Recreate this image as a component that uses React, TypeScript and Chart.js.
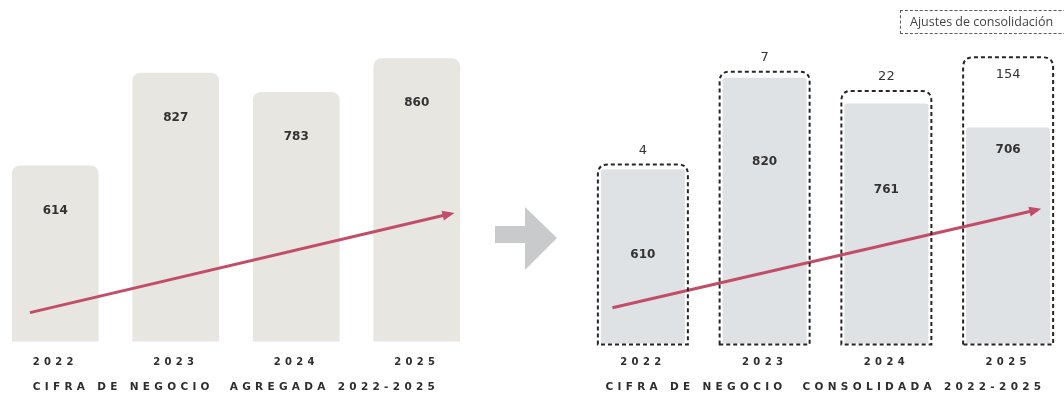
import React, { useEffect, useRef } from 'react';
import { Chart, registerables } from 'chart.js';
Chart.register(...registerables);

// ---- data ----
const years = ['2022', '2023', '2024', '2025'];
const aggregate = [614, 827, 783, 860];
const consolidated = [610, 820, 761, 706];
const adjustments = [4, 7, 22, 154];
// decorative trend arrows (x in category units, y in value units)
const trendAggX = [-0.21, 3.28];
const trendAggY = [276, 503];
const trendConsX = [-0.25, 3.24];
const trendConsY = [292, 517];
const titleAgg = 'CIFRA DE NEGOCIO  AGREGADA 2022-2025';
const titleCons = 'CIFRA DE NEGOCIO  CONSOLIDADA 2022-2025';
const legendLabel = 'Ajustes de consolidación';

const Y_MIN = 210;
const Y_MAX = 870;
const RED = '#c24d69';
const TXT = '#2e2e2e';
const FONT = 'DejaVu Sans';

const spacingPlugin = {
  id: 'spacing',
  beforeDraw(chart: any) {
    chart.ctx.letterSpacing = '4.3px';
  },
  afterDraw(chart: any) {
    chart.ctx.letterSpacing = '0px';
  },
};

const arrowHeadPlugin = {
  id: 'arrowHead',
  afterDatasetsDraw(chart: any) {
    chart.data.datasets.forEach((ds: any, i: number) => {
      if (ds.type !== 'line') return;
      const pts = chart.getDatasetMeta(i).data;
      if (pts.length < 2) return;
      const a = pts[pts.length - 2];
      const b = pts[pts.length - 1];
      const ang = Math.atan2(b.y - a.y, b.x - a.x);
      const ctx = chart.ctx;
      ctx.save();
      ctx.fillStyle = ds.borderColor;
      ctx.translate(b.x, b.y);
      ctx.rotate(ang);
      ctx.beginPath();
      ctx.moveTo(4, 0);
      ctx.lineTo(-8, -5);
      ctx.lineTo(-8, 5);
      ctx.closePath();
      ctx.fill();
      ctx.restore();
    });
  },
};

function trendDataset(xs: number[], ys: number[]) {
  return {
    type: 'line',
    data: xs.map((x, i) => ({ x, y: ys[i] })),
    xAxisID: 'xt',
    yAxisID: 'y',
    borderColor: RED,
    borderWidth: 3,
    pointRadius: 0,
    order: 0,
    stack: 'trend',
  };
}

function xScales(title: string, pad: number, titlePad: any) {
  return {
    x: {
      stacked: true,
      grid: { display: false, drawTicks: false },
      border: { display: false },
      ticks: {
        color: TXT,
        font: { family: FONT, size: 10, weight: 'bold' },
        padding: pad,
        maxRotation: 0,
        autoSkip: false,
      },
      title: {
        display: true,
        text: title,
        color: TXT,
        font: { family: FONT, size: 10.5, weight: 'bold' },
        padding: titlePad,
      },
    },
    xt: { type: 'linear', display: false, offset: false, min: -0.5, max: 3.5 },
    y: { display: false, min: Y_MIN, max: Y_MAX, stacked: true },
  };
}

function AggChart() {
  const ref = useRef<HTMLCanvasElement>(null);
  useEffect(() => {
    const labelPlugin = {
      id: 'aggLabels',
      afterDatasetsDraw(chart: any) {
        const ctx = chart.ctx;
        const meta = chart.getDatasetMeta(0);
        ctx.save();
        ctx.letterSpacing = '0px';
        ctx.font = `bold 12px "${FONT}"`;
        ctx.fillStyle = '#333';
        ctx.textAlign = 'center';
        ctx.textBaseline = 'middle';
        meta.data.forEach((el: any, i: number) => {
          const p = el.getProps(['x', 'y'], true);
          ctx.fillText(String(aggregate[i]), p.x, p.y + 45);
        });
        ctx.restore();
      },
    };
    const chart = new Chart(ref.current!, {
      type: 'bar',
      data: {
        labels: years,
        datasets: [
          {
            type: 'bar',
            data: aggregate,
            backgroundColor: '#e7e6e0',
            borderRadius: { topLeft: 8, topRight: 8, bottomLeft: 0, bottomRight: 0 },
            borderSkipped: false,
            grouped: false,
            categoryPercentage: 1,
            barPercentage: 0.72,
            order: 1,
          } as any,
          trendDataset(trendAggX, trendAggY) as any,
        ],
      },
      options: {
        responsive: false,
        animation: false,
        layout: { padding: { top: 54, bottom: 0, left: 0, right: 0 } },
        plugins: { legend: { display: false }, tooltip: { enabled: false } },
        scales: xScales(titleAgg, 15, { top: -2, bottom: 4 }) as any,
      },
      plugins: [spacingPlugin, labelPlugin, arrowHeadPlugin],
    });
    return () => chart.destroy();
  }, []);
  return (
    <canvas
      ref={ref}
      width={482}
      height={398}
      style={{ position: 'absolute', left: -5, top: 0 }}
    />
  );
}

function ConsChart() {
  const ref = useRef<HTMLCanvasElement>(null);
  useEffect(() => {
    const roundTopRect = (ctx: any, x0: number, y0: number, x1: number, y1: number, r: number) => {
      ctx.beginPath();
      ctx.moveTo(x0, y1);
      ctx.lineTo(x0, y0 + r);
      ctx.quadraticCurveTo(x0, y0, x0 + r, y0);
      ctx.lineTo(x1 - r, y0);
      ctx.quadraticCurveTo(x1, y0, x1, y0 + r);
      ctx.lineTo(x1, y1);
      ctx.closePath();
    };
    const consPlugin = {
      id: 'consLabels',
      afterDatasetsDraw(chart: any) {
        const ctx = chart.ctx;
        const fillMeta = chart.getDatasetMeta(0);
        const adjMeta = chart.getDatasetMeta(1);
        const bottom = chart.chartArea.bottom;
        const innerOffset = [86, 84, 86, 22];
        ctx.save();
        ctx.letterSpacing = '0px';
        // dashed outline boxes
        ctx.strokeStyle = '#262626';
        ctx.lineWidth = 2;
        ctx.setLineDash([4, 3]);
        adjMeta.data.forEach((el: any) => {
          const p = el.getProps(['x', 'y', 'width'], true);
          roundTopRect(ctx, p.x - p.width / 2 - 3, p.y - 3, p.x + p.width / 2 + 3, bottom + 1, 10);
          ctx.stroke();
        });
        ctx.setLineDash([]);
        ctx.textAlign = 'center';
        ctx.textBaseline = 'middle';
        ctx.fillStyle = '#333';
        ctx.font = `bold 12px "${FONT}"`;
        fillMeta.data.forEach((el: any, i: number) => {
          const p = el.getProps(['x', 'y'], true);
          ctx.fillText(String(consolidated[i]), p.x, p.y + innerOffset[i]);
        });
        ctx.font = `13px "${FONT}"`;
        adjMeta.data.forEach((el: any, i: number) => {
          const p = el.getProps(['x', 'y', 'base'], true);
          const inside = p.base - p.y > 30;
          ctx.fillText(String(adjustments[i]), p.x, inside ? p.y + 14 : p.y - 17);
        });
        ctx.restore();
      },
    };
    const chart = new Chart(ref.current!, {
      type: 'bar',
      data: {
        labels: years,
        datasets: [
          {
            type: 'bar',
            data: consolidated,
            backgroundColor: '#dfe2e5',
            borderRadius: { topLeft: 3, topRight: 3, bottomLeft: 0, bottomRight: 0 },
            borderSkipped: false,
            grouped: false,
            categoryPercentage: 1,
            barPercentage: 0.69,
            order: 1,
            stack: 'main',
          } as any,
          {
            type: 'bar',
            label: legendLabel,
            data: adjustments,
            backgroundColor: 'rgba(0,0,0,0)',
            grouped: false,
            categoryPercentage: 1,
            barPercentage: 0.69,
            order: 1,
            stack: 'main',
          } as any,
          trendDataset(trendConsX, trendConsY) as any,
        ],
      },
      options: {
        responsive: false,
        animation: false,
        layout: { padding: { top: 56, bottom: 0, left: 0, right: 0 } },
        plugins: { legend: { display: false }, tooltip: { enabled: false } },
        scales: xScales(titleCons, 13, { top: 0, bottom: 4 }) as any,
      },
      plugins: [spacingPlugin, consPlugin, arrowHeadPlugin],
    });
    return () => chart.destroy();
  }, []);
  return (
    <canvas
      ref={ref}
      width={487}
      height={398}
      style={{ position: 'absolute', left: 582, top: 0 }}
    />
  );
}

export default function App() {
  return (
    <div
      style={{
        position: 'fixed',
        left: 0,
        top: 0,
        width: 1064,
        height: 398,
        overflow: 'hidden',
        background: '#ffffff',
      }}
    >
      <AggChart />
      <svg
        width={70}
        height={70}
        style={{ position: 'absolute', left: 492, top: 204 }}
        viewBox="0 0 70 70"
      >
        <polygon points="3,22 33,22 33,3 65,34 33,66 33,39 3,39" fill="#c9cacc" />
      </svg>
      <ConsChart />
      <div
        style={{
          position: 'absolute',
          left: 900,
          top: 10,
          width: 200,
          height: 22,
          border: '1.5px dashed #5a5a5a',
          fontFamily: '"Open Sans", sans-serif',
          fontSize: 12.5,
          lineHeight: '22px',
          color: '#444',
          paddingLeft: 9,
          whiteSpace: 'nowrap',
          boxSizing: 'content-box',
        }}
      >
        {legendLabel}
      </div>
    </div>
  );
}
